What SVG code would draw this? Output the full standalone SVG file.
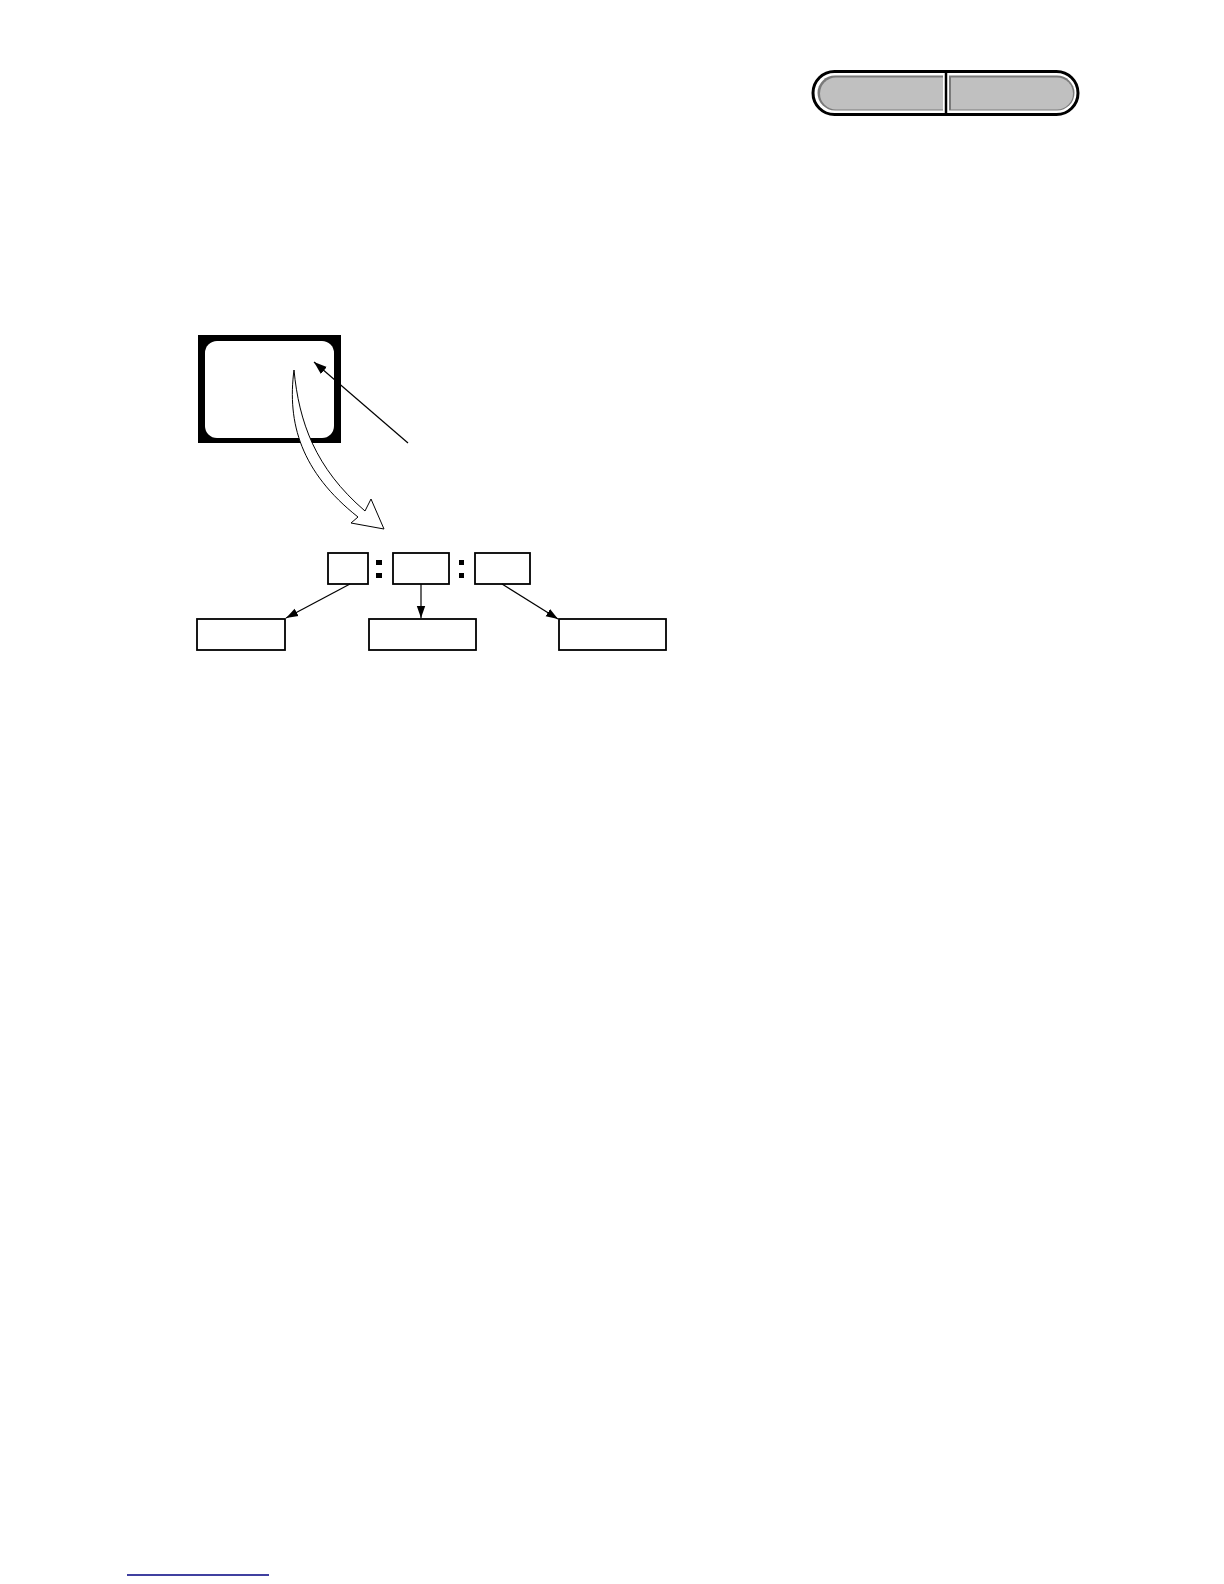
<svg xmlns="http://www.w3.org/2000/svg" width="1224" height="1584" viewBox="0 0 1224 1584">
<style>
.box{fill:#fff;stroke:#000;stroke-width:1.8}
.conn{stroke:#000;stroke-width:1.2;fill:none}
</style>
<defs>
<marker id="ah" viewBox="0 0 10 10" refX="10" refY="5" markerWidth="12" markerHeight="12" markerUnits="userSpaceOnUse" orient="auto">
<path d="M0,1.5 L10,5 L0,8.5 Z" fill="#000"/>
</marker>
<marker id="ah2" viewBox="0 0 10 10" refX="10" refY="5" markerWidth="13" markerHeight="13" markerUnits="userSpaceOnUse" orient="auto">
<path d="M0,1.5 L10,5 L0,8.5 Z" fill="#000"/>
</marker>
</defs>
<rect width="1224" height="1584" fill="#fff"/>
<g id="tab-pill">
<rect x="813" y="71.5" width="265" height="43" rx="21.5" fill="#fff" stroke="#000" stroke-width="3"/>
<path d="M835,75.5 H943 V110.5 H835 A17.5,17.5 0 0 1 835,75.5 Z" fill="#7a7a7a"/>
<path d="M836,77.5 H943 V109.5 H836 A16,16 0 0 1 836,77.5 Z" fill="#c0c0c0"/>
<path d="M949,75.5 H1057 A17.5,17.5 0 0 1 1057,110.5 H949 Z" fill="#7a7a7a"/>
<path d="M951,77.5 H1057 A16,16 0 0 1 1057,109.5 H951 Z" fill="#c0c0c0"/>
<line x1="946" y1="72.5" x2="946" y2="113.5" stroke="#000" stroke-width="2.5"/>
</g>
<g id="monitor">
<rect x="198" y="335" width="143" height="108" fill="#000"/>
<rect x="205" y="341" width="129" height="97" rx="12" fill="#fff"/>
</g>
<g id="box-a"><rect class="box" x="328" y="553" width="40" height="31"/></g>
<g id="colon-1"><rect x="376" y="560" width="6" height="5" fill="#000"/><rect x="376" y="573" width="6" height="5" fill="#000"/></g>
<g id="box-b"><rect class="box" x="393" y="553" width="56" height="31"/></g>
<g id="colon-2"><rect x="459" y="560" width="5" height="5" fill="#000"/><rect x="459" y="573" width="5" height="5" fill="#000"/></g>
<g id="box-c"><rect class="box" x="475" y="553" width="55" height="31"/></g>
<g id="box-left"><rect class="box" x="197" y="619" width="88" height="31"/></g>
<g id="box-mid"><rect class="box" x="369" y="619" width="107" height="31"/></g>
<g id="box-right"><rect class="box" x="559" y="619" width="107" height="31"/></g>
<g id="connectors">
<line class="conn" x1="408" y1="443" x2="314" y2="362" marker-end="url(#ah2)"/>
<path d="M294,370 C287,423 301,472 358,517 L351,523 L384,529 L371,499 L365,511 C315,468 299,422 294,370 Z" fill="#fff" stroke="#000" stroke-width="1"/>
<line class="conn" x1="350" y1="584" x2="286" y2="618" marker-end="url(#ah)"/>
<line class="conn" x1="421" y1="584" x2="421" y2="618" marker-end="url(#ah)"/>
<line class="conn" x1="502" y1="584" x2="558" y2="619" marker-end="url(#ah)"/>
</g>
<line x1="127" y1="1575" x2="269" y2="1575" stroke="#000080" stroke-width="1.5"/>
</svg>
